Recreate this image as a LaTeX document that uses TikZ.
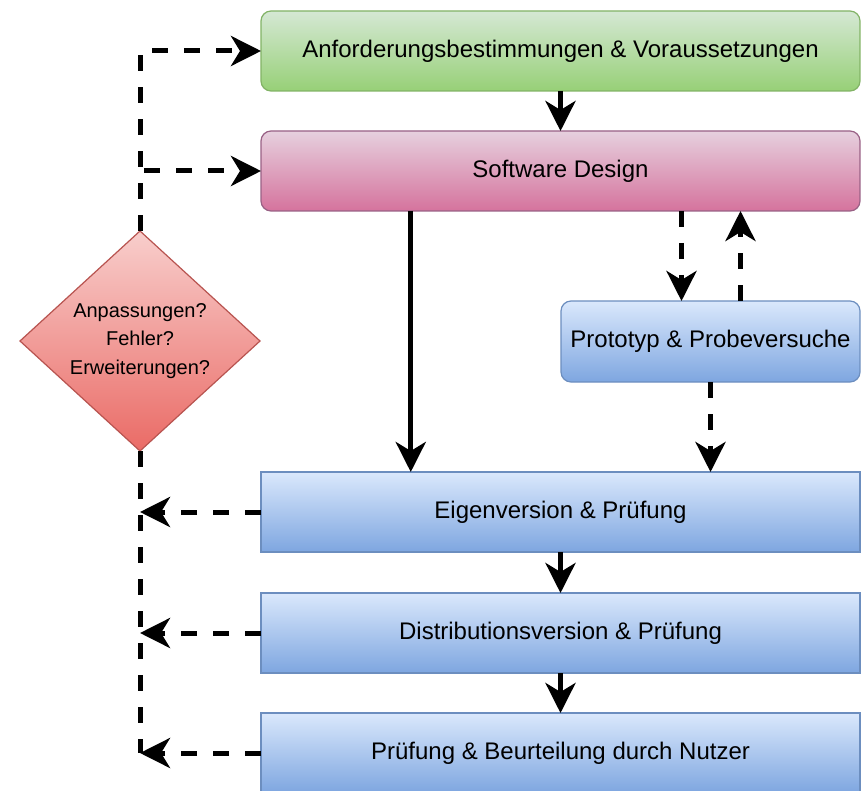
\documentclass[tikz,border=0pt]{standalone}
\usepackage{fontspec}
\setmainfont{Liberation Sans}
\usetikzlibrary{arrows.meta,shapes.geometric,calc}

\definecolor{greentop}{HTML}{D5E8D4}
\definecolor{greenbot}{HTML}{97D077}
\definecolor{greenline}{HTML}{82B366}
\definecolor{pinktop}{HTML}{E6D0DE}
\definecolor{pinkbot}{HTML}{D5739D}
\definecolor{pinkline}{HTML}{996185}
\definecolor{bluetop}{HTML}{DAE8FC}
\definecolor{bluebot}{HTML}{7EA6E0}
\definecolor{blueline}{HTML}{6C8EBF}
\definecolor{redtop}{HTML}{F8CECC}
\definecolor{redbot}{HTML}{EA6B66}
\definecolor{redline}{HTML}{B85450}

\begin{document}
\begin{tikzpicture}[x=1pt,y=-1pt,inner sep=0pt,outer sep=0pt,
stageblock/.style={draw,rectangle,line width=1.2pt,minimum width=599pt,minimum height=80pt,font=\fontsize{24}{28}\selectfont},
greenblock/.style={stageblock,rounded corners=10pt,draw=greenline,top color=greentop,bottom color=greenbot},
pinkblock/.style={stageblock,rounded corners=10pt,draw=pinkline,top color=pinktop,bottom color=pinkbot},
blueblock/.style={stageblock,draw=blueline,top color=bluetop,bottom color=bluebot},
decision/.style={draw=redline,diamond,line width=1.2pt,minimum width=240pt,minimum height=220pt,align=center,
  top color=redtop,bottom color=redbot,font=\fontsize{20}{28.5}\selectfont},
flow/.style={line width=5pt,-{Stealth[length=30pt,width=30pt,inset=9pt]}},
dashflow/.style={flow,dash pattern=on 16pt off 16pt},
dashline/.style={line width=5pt,dash pattern=on 16pt off 16pt}]

\useasboundingbox (0,0) rectangle (861,791);

\draw (560.5,51) node[greenblock] (req) {Anforderungsbestimmungen \& Voraussetzungen};
\draw (560.5,171) node[pinkblock] (design) {Software Design};
\draw (710.5,341.5) node[blueblock,rounded corners=10pt,minimum width=299pt,minimum height=81pt] (proto) {Prototyp \& Probeversuche};
\draw (560.5,512) node[blueblock] (eig) {Eigenversion \& Prüfung};
\draw (560.5,633) node[blueblock] (dist) {Distributionsversion \& Prüfung};
\draw (560.5,753) node[blueblock] (user) {Prüfung \& Beurteilung durch Nutzer};
\draw (140,341) node[decision] (dec) {Anpassungen?\\Fehler?\\Erweiterungen?};

% main line
\draw[flow] (req) -- (design);
\draw[flow] ($(design.south west)!.25!(design.south east)$) -- ($(eig.north west)!.25!(eig.north east)$);
\draw[flow] (eig) -- (dist);
\draw[flow] (dist) -- (user);

% prototype loop
\draw[dashflow] ([xshift=-29pt]proto.north |- design.south) -- ([xshift=-29pt]proto.north);
\draw[dashflow] ([xshift=30pt]proto.north) -- ([xshift=30pt]proto.north |- design.south);
\draw[dashflow] (proto.south) -- (proto.south |- eig.north);

% feedback
\draw[dashflow] (dec.north) |- (req.west);
\draw[dashflow] (dec.north) |- (design.west);
\draw[dashline] (dec.south) -- (dec.south |- user.west);
\draw[dashflow] (eig.west) -- (dec.south |- eig.west);
\draw[dashflow] (dist.west) -- (dec.south |- dist.west);
\draw[dashflow] (user.west) -- (dec.south |- user.west);
\end{tikzpicture}
\end{document}
